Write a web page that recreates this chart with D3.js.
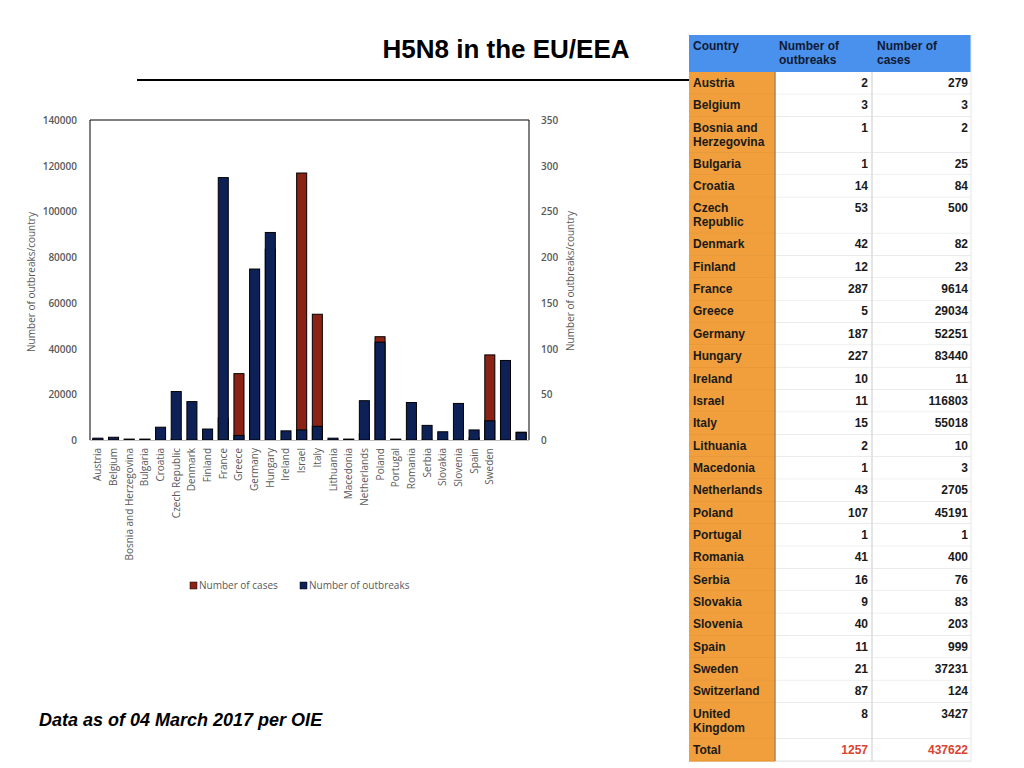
<!DOCTYPE html>
<html><head><meta charset="utf-8">
<script src="https://cdn.jsdelivr.net/npm/d3@7/dist/d3.min.js"></script>
<style>body{margin:0;background:#fff;}svg{display:block;}</style>
</head><body>
<svg id="c" width="1024" height="768"></svg>
<script>
// ---- data ----
const countries = ["Austria","Belgium","Bosnia and Herzegovina","Bulgaria","Croatia","Czech Republic","Denmark","Finland","France","Greece","Germany","Hungary","Ireland","Israel","Italy","Lithuania","Macedonia","Netherlands","Poland","Portugal","Romania","Serbia","Slovakia","Slovenia","Spain","Sweden","Switzerland","United Kingdom"];
const outbreaks = [2,3,1,1,14,53,42,12,287,5,187,227,10,11,15,2,1,43,107,1,41,16,9,40,11,21,87,8];
const cases = [279,3,2,25,84,500,82,23,9614,29034,52251,83440,11,116803,55018,10,3,2705,45191,1,400,76,83,203,999,37231,124,3427];
const shownXLabels = ["Austria","Belgium","Bosnia and Herzegovina","Bulgaria","Croatia","Czech Republic","Denmark","Finland","France","Greece","Germany","Hungary","Ireland","Israel","Italy","Lithuania","Macedonia","Netherlands","Poland","Portugal","Romania","Serbia","Slovakia","Slovenia","Spain","Sweden"];
const leftTicks = [0,20000,40000,60000,80000,100000,120000,140000];
const rightTicks = [0,50,100,150,200,250,300,350];
const tableCountryLabels = ["Austria","Belgium","Bosnia and|Herzegovina","Bulgaria","Croatia","Czech|Republic","Denmark","Finland","France","Greece","Germany","Hungary","Ireland","Israel","Italy","Lithuania","Macedonia","Netherlands","Poland","Portugal","Romania","Serbia","Slovakia","Slovenia","Spain","Sweden","Switzerland","United|Kingdom"];
const totalOutbreaks = 1257, totalCases = 437622;

const svg = d3.select("#c");
const grey = "#595959";
const font = "'Open Sans', 'Noto Sans', sans-serif";
const arial = "'Liberation Sans', Arial, sans-serif";

// title
svg.append("text").attr("x",506).attr("y",58).attr("text-anchor","middle")
  .attr("font-family",arial).attr("font-weight","bold").attr("font-size",26).text("H5N8 in the EU/EEA");
svg.append("line").attr("x1",137).attr("x2",690).attr("y1",80).attr("y2",80).attr("stroke","#000").attr("stroke-width",2);

// chart
const L=90,R=529,T=120,B=440;
const x = d3.scaleBand().domain(countries).range([L,R]).paddingInner(0.36).paddingOuter(0.18);
const yL = d3.scaleLinear().domain([0,140000]).range([B,T]);
const yR = d3.scaleLinear().domain([0,350]).range([B,T]);
const navy="#0e2157", red="#8b2216";

const g = svg.append("g");
g.selectAll("rect.cases").data(countries).join("rect").attr("class","cases")
  .attr("x",d=>x(d)).attr("width",x.bandwidth())
  .attr("y",(d,i)=>yL(cases[i])).attr("height",(d,i)=>B-yL(cases[i]))
  .attr("fill",red).attr("stroke","#000").attr("stroke-width",1);
g.selectAll("rect.out").data(countries).join("rect").attr("class","out")
  .attr("x",d=>x(d)).attr("width",x.bandwidth())
  .attr("y",(d,i)=>yR(outbreaks[i])).attr("height",(d,i)=>B-yR(outbreaks[i]))
  .attr("fill",navy).attr("stroke","#000").attr("stroke-width",1);

// frame
svg.append("path").attr("d",`M${L},${B}V${T}H${R}V${B}`).attr("fill","none").attr("stroke","#000").attr("stroke-width",1);
svg.append("line").attr("x1",L).attr("x2",R).attr("y1",B+0.5).attr("y2",B+0.5).attr("stroke","#bfbfbf");

// axes
const axL = svg.append("g").attr("transform",`translate(${L-13},0)`)
  .call(d3.axisLeft(yL).tickValues(leftTicks).tickSize(0).tickFormat(d3.format("d")));
const axR = svg.append("g").attr("transform",`translate(${R+12},0)`)
  .call(d3.axisRight(yR).tickValues(rightTicks).tickSize(0).tickFormat(d3.format("d")));
[axL,axR].forEach(a=>{a.select(".domain").remove();
  a.selectAll("text").attr("font-family",font).attr("font-size",10).attr("font-weight",600).attr("fill",grey).attr("dy","0.35em");});
axL.selectAll("text").attr("x",0);
axR.selectAll("text").attr("x",0);

const axX = svg.append("g").attr("transform",`translate(0,${B})`)
  .call(d3.axisBottom(x).tickSize(0).tickFormat(d=>shownXLabels.includes(d)?d:""));
axX.select(".domain").remove();
axX.selectAll("text").attr("font-family",font).attr("font-size",10).attr("fill",grey)
  .attr("text-anchor","end").attr("transform","rotate(-90)").attr("x",-8).attr("y",0).attr("dy","0.35em");

// axis titles
svg.append("text").attr("transform","translate(35,282) rotate(-90)").attr("text-anchor","middle")
  .attr("font-family",font).attr("font-size",10).attr("fill",grey).text("Number of outbreaks/country");
svg.append("text").attr("transform","translate(574,281) rotate(-90)").attr("text-anchor","middle")
  .attr("font-family",font).attr("font-size",10).attr("fill",grey).text("Number of outbreaks/country");

// legend
const leg=[["Number of cases",red,190],["Number of outbreaks",navy,300]];
leg.forEach(([t,c,lx])=>{
  svg.append("rect").attr("x",lx).attr("y",582).attr("width",7).attr("height",7).attr("fill",c).attr("stroke","#000").attr("stroke-width",0.5);
  svg.append("text").attr("x",lx+9).attr("y",589).attr("font-family",font).attr("font-size",10).attr("fill",grey).text(t);
});

// footer
svg.append("text").attr("x",39).attr("y",726).attr("font-family",arial).attr("font-weight","bold")
  .attr("font-style","italic").attr("font-size",18).text("Data as of 04 March 2017 per OIE");

// table
const tx0=689, tx1=775, tx2=872, tx3=971;
const tg = svg.append("g").attr("font-family",arial).attr("font-weight","bold").attr("font-size",12);
tg.append("rect").attr("x",tx0).attr("y",35).attr("width",tx3-tx0).attr("height",37).attr("fill","#4a91ee");
[["Country",tx0+4],["Number of|outbreaks",tx1+4],["Number of|cases",tx2+5]].forEach(([t,hx])=>{
  t.split("|").forEach((ln,k)=>tg.append("text").attr("x",hx).attr("y",50+k*13.5).attr("fill","#111a33").text(ln));
});
const rows = tableCountryLabels.map((c,i)=>({c,o:outbreaks[i],v:cases[i],tot:false}));
rows.push({c:"Total",o:totalOutbreaks,v:totalCases,tot:true});
let yy=72;
rows.forEach(r=>{
  const lines=r.c.split("|");
  const h = lines.length>1?36:22.35;
  tg.append("rect").attr("x",tx0).attr("y",yy).attr("width",tx1-tx0).attr("height",h).attr("fill","#f19f3c");
  tg.append("rect").attr("x",tx1).attr("y",yy).attr("width",tx3-tx1).attr("height",h).attr("fill","#fff");
  tg.append("line").attr("x1",tx0).attr("x2",tx1).attr("y1",yy+h).attr("y2",yy+h).attr("stroke","#e0902f").attr("stroke-width",1);
  tg.append("line").attr("x1",tx1).attr("x2",tx3).attr("y1",yy+h).attr("y2",yy+h).attr("stroke","#dcdcdc").attr("stroke-width",1);
  lines.forEach((ln,k)=>tg.append("text").attr("x",tx0+4).attr("y",yy+15+k*14).attr("fill","#1a1a1a").text(ln));
  const col = r.tot?"#d9432f":"#1a1a1a";
  tg.append("text").attr("x",tx2-4).attr("y",yy+15).attr("text-anchor","end").attr("fill",col).text(r.o);
  tg.append("text").attr("x",tx3-3).attr("y",yy+15).attr("text-anchor","end").attr("fill",col).text(r.v);
  yy+=h;
});
tg.append("line").attr("x1",tx1).attr("x2",tx1).attr("y1",72).attr("y2",yy).attr("stroke","#b08050").attr("stroke-width",1.5);
tg.append("line").attr("x1",tx2).attr("x2",tx2).attr("y1",72).attr("y2",yy).attr("stroke","#dcdcdc").attr("stroke-width",1.5);
tg.append("line").attr("x1",tx3).attr("x2",tx3).attr("y1",35).attr("y2",yy).attr("stroke","#e6e6e6").attr("stroke-width",1);
</script>
</body></html>
